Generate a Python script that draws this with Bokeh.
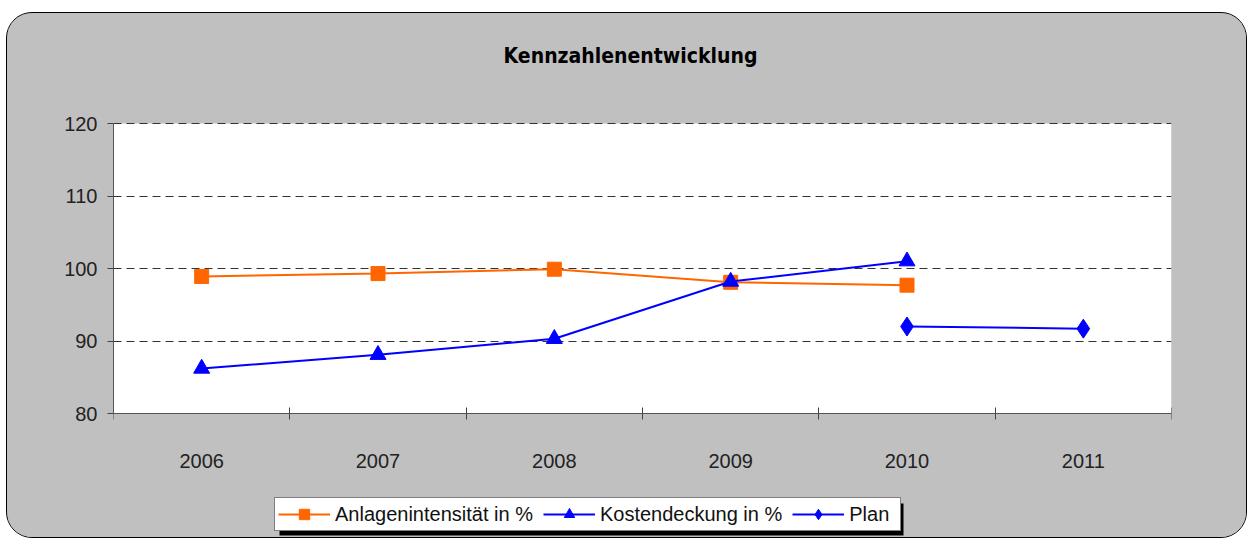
from bokeh.plotting import figure
from bokeh.models import (FixedTicker, Legend, LegendItem, BoxAnnotation, Range1d,
                          LinearAxis, Label)
from bokeh.embed import file_html
from bokeh.resources import INLINE

# ---- data ----
title_text = "Kennzahlenentwicklung"
years = ["2006", "2007", "2008", "2009", "2010", "2011"]
anlagen_years = ["2006", "2007", "2008", "2009", "2010"]
anlagen = [98.9, 99.3, 99.9, 98.1, 97.7]
kosten_years = ["2006", "2007", "2008", "2009", "2010"]
kosten = [86.2, 88.1, 90.3, 98.2, 101.0]
plan_years = ["2010", "2011"]
plan = [92.0, 91.7]
y_ticks = [80, 90, 100, 110, 120]

def xpos(labels):
    return [years.index(l) + 0.5 for l in labels]

LABEL_FONT = "'Liberation Sans', Arial, sans-serif"
TITLE_FONT = "'Liberation Sans Narrow', 'DejaVu Sans Condensed', sans-serif"

# ---- layout (pixels, canvas coordinates) ----
W, H = 1241, 526
LEFT, RIGHT = 106, 77
PX_TOP, PX_BOT = 110, 400          # canvas y of the 120 and 80 value lines
per_px = (y_ticks[-1] - y_ticks[0]) / (PX_BOT - PX_TOP)
y_hi = y_ticks[-1] + PX_TOP * per_px
y_lo = y_ticks[0] - (H - PX_BOT) * per_px

GRAY = "#c0c0c0"

p = figure(width=W, height=H, output_backend="svg", toolbar_location=None,
           x_range=Range1d(0, len(years)), y_range=Range1d(y_lo, y_hi),
           x_axis_type=None,
           min_border_left=LEFT, min_border_right=RIGHT,
           min_border_top=0, min_border_bottom=0)
p.margin = (12, 0, 0, 6)
p.styles = {"border": "1px solid black", "border-radius": "26px", "overflow": "hidden",
            "background-color": GRAY}

p.border_fill_color = GRAY
p.background_fill_color = None
p.outline_line_color = None

# white plot area
p.add_layout(BoxAnnotation(left=0, right=len(years), bottom=y_ticks[0], top=y_ticks[-1],
                           fill_color="white", fill_alpha=1, line_color=None,
                           level="image"))

# title
p.add_layout(Label(x=517, y=484, x_units="screen", y_units="screen", text=title_text,
                   text_align="center", text_baseline="middle",
                   text_font=TITLE_FONT, text_font_size="21px",
                   text_font_style="bold", text_color="black"))

# x axis: fixed at 80, labels at category centres, ticks at boundaries
xaxis = LinearAxis(fixed_location=y_ticks[0])
xaxis.ticker = FixedTicker(ticks=xpos(years), minor_ticks=list(range(len(years) + 1)))
xaxis.major_label_overrides = {x: y for x, y in zip(xpos(years), years)}
xaxis.major_tick_in = 0
xaxis.major_tick_out = 0
xaxis.minor_tick_in = 6
xaxis.minor_tick_out = 6
xaxis.minor_tick_line_color = "#444444"
xaxis.major_label_standoff = 34
xaxis.axis_line_color = "#555555"
p.add_layout(xaxis, "below")

yaxis = p.yaxis[0]
yaxis.ticker = FixedTicker(ticks=y_ticks)
yaxis.bounds = (y_ticks[0], y_ticks[-1])
yaxis.minor_tick_line_color = None
yaxis.major_tick_in = 0
yaxis.major_tick_out = 6
yaxis.major_tick_line_color = "#444444"
yaxis.axis_line_color = "#555555"
yaxis.major_label_standoff = 10

for ax in (xaxis, yaxis):
    ax.major_label_text_font = LABEL_FONT
    ax.major_label_text_font_size = "20px"
    ax.major_label_text_color = "#222222"

p.xgrid.visible = False
p.ygrid.ticker = FixedTicker(ticks=y_ticks[1:])
p.ygrid.grid_line_color = "#333333"
p.ygrid.grid_line_dash = "8 5"
p.ygrid.grid_line_width = 1

ORANGE = "#FF6600"
BLUE = "#0000FF"

l1 = p.line(xpos(anlagen_years), anlagen, line_color=ORANGE, line_width=2)
s1 = p.scatter(xpos(anlagen_years), anlagen, marker="square", size=14,
               fill_color=ORANGE, line_color=ORANGE)
l2 = p.line(xpos(kosten_years), kosten, line_color=BLUE, line_width=2)
s2 = p.scatter(xpos(kosten_years), kosten, marker="triangle", size=16,
               fill_color=BLUE, line_color=BLUE)
l3 = p.line(xpos(plan_years), plan, line_color=BLUE, line_width=2)
s3 = p.scatter(xpos(plan_years), plan, marker="diamond", size=19,
               fill_color=BLUE, line_color=BLUE)

# legend shadow (screen units, measured from the frame's bottom-left)
shadow = BoxAnnotation(left=166, right=790, top=36, bottom=4,
                       left_units="screen", right_units="screen",
                       top_units="screen", bottom_units="screen",
                       fill_color="black", fill_alpha=1, line_color=None,
                       level="annotation")
p.add_layout(shadow)

legend = Legend(items=[
    LegendItem(label="Anlagenintensität in %", renderers=[l1, s1]),
    LegendItem(label="Kostendeckung in %", renderers=[l2, s2]),
    LegendItem(label="Plan", renderers=[l3, s3]),
], orientation="horizontal", location=(161, 8))
legend.label_text_font = LABEL_FONT
legend.label_text_font_size = "20px"
legend.label_text_color = "#111111"
legend.glyph_width = 52
legend.glyph_height = 26
legend.label_height = 26
legend.label_width = 48
legend.label_standoff = 5
legend.spacing = 10
legend.padding = 3
legend.margin = 0
legend.border_line_color = "black"
legend.border_line_width = 1
legend.background_fill_color = "white"
legend.background_fill_alpha = 1
p.add_layout(legend, "center")

open("out.html", "w").write(file_html(p, INLINE))
